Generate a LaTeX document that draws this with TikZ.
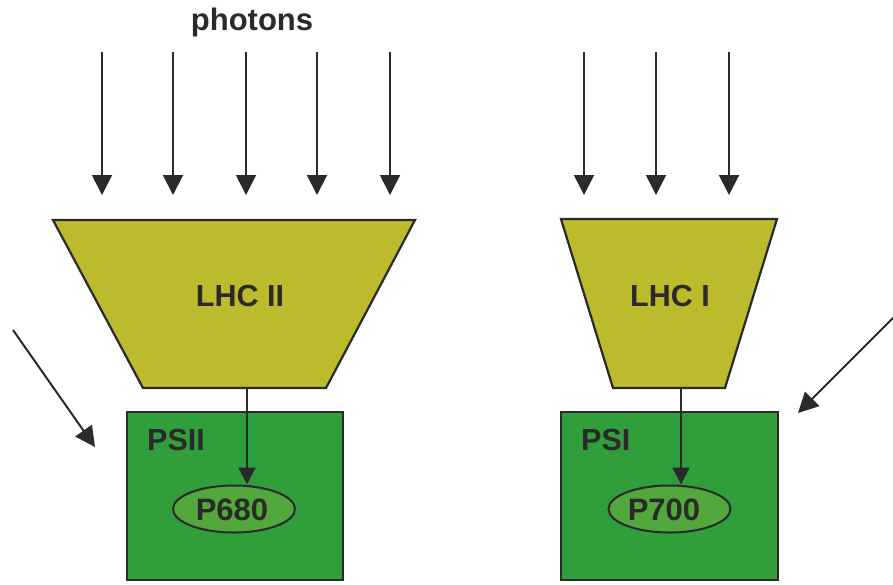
\documentclass[tikz,border=0pt]{standalone}
\usepackage{fontspec}
\setmainfont{Liberation Sans}
\usetikzlibrary{arrows.meta,shapes.geometric}
\definecolor{lhcyellow}{HTML}{BBBB2C}
\definecolor{psgreen}{HTML}{2F9E3B}
\definecolor{pgreen}{HTML}{52A83C}
\definecolor{ink}{HTML}{2A2A2A}
\begin{document}
\begin{tikzpicture}[x=1pt,y=-1pt,
  photon/.style={draw=ink,line width=2pt,-{Triangle[width=20pt,length=20pt]}},
  inner/.style={draw=ink,line width=2pt,-{Triangle[width=17pt,length=17pt]}},
  lhc/.style={fill=lhcyellow,draw=ink,line width=2.2pt,line join=miter},
  psbox/.style={rectangle,fill=psgreen,draw=ink,line width=2pt,inner sep=0pt},
  pcore/.style={ellipse,fill=pgreen,draw=ink,line width=2pt,inner sep=0pt,minimum width=122pt,minimum height=47pt},
  lbl/.style={font=\bfseries\fontsize{30.5}{30.5}\selectfont,text=ink,inner sep=0pt}]
\useasboundingbox (0,0) rectangle (893,584);

% title
\node[lbl,font=\bfseries\fontsize{31}{31}\selectfont] (photons) at (252,22) {photons};

% LHC II
\draw[lhc] (53,220) -- (415,220) -- (326,388) -- (143,388) -- cycle;
\node[lbl] (lhc2) at (240,296) {LHC II};
\coordinate (lhc2b) at (247,388);

% LHC I
\draw[lhc] (561,219) -- (777,219) -- (725,388) -- (613,388) -- cycle;
\node[lbl] (lhc1) at (670,296) {LHC I};
\coordinate (lhc1b) at (681,388);

% photon arrows
\foreach \x [count=\i] in {102,173,246,317,390,584,656,729}{
  \coordinate (pt\i) at (\x,52);
  \coordinate (ph\i) at (\x,195);
  \draw[photon] (pt\i) -- (ph\i);
}

% PSII
\node[psbox,minimum width=216pt,minimum height=168pt] (psii) at (235,496) {};
\node[lbl,anchor=west] (psiil) at (147,440) {PSII};
\node[pcore] (p680) at (234,509) {};
\node[lbl,font=\bfseries\fontsize{31}{31}\selectfont] (p680l) at (232,510) {P680};

% PSI
\node[psbox,minimum width=217pt,minimum height=168pt] (psi) at (669.5,496) {};
\node[lbl,anchor=west] (psil) at (581,440) {PSI};
\node[pcore] (p700) at (669.5,509) {};
\node[lbl,font=\bfseries\fontsize{31}{31}\selectfont] (p700l) at (664,510) {P700};

% inner arrows
\draw[inner] (lhc2b) -- (lhc2b |- p680.north);
\draw[inner] (lhc1b) -- (lhc1b |- p700.north);

% diagonal arrows
\coordinate (dl0) at (13,330);
\coordinate (dl1) at (95,447);
\draw[photon] (dl0) -- (dl1);
\coordinate (dr0) at (894,317);
\coordinate (dr1) at (798,413);
\draw[photon] (dr0) -- (dr1);
\end{tikzpicture}
\end{document}
